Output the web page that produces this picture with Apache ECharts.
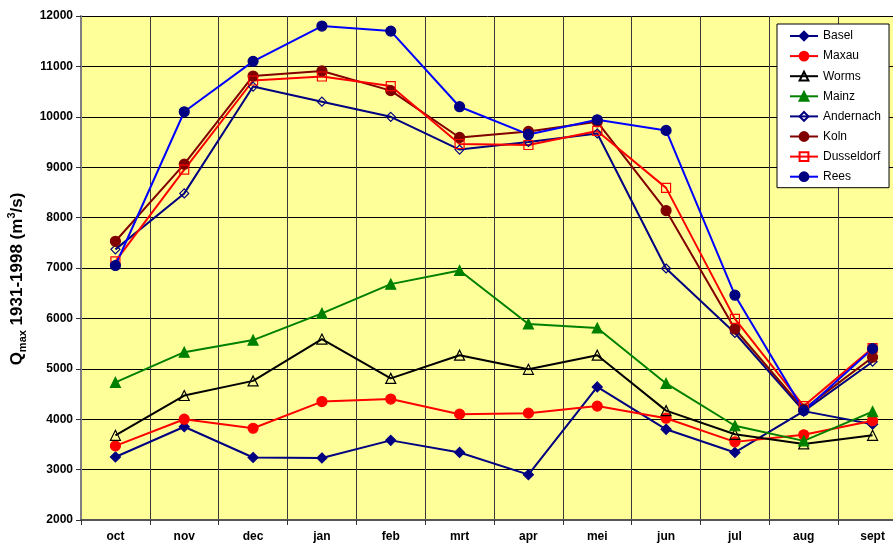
<!DOCTYPE html>
<html>
<head>
<meta charset="utf-8">
<script src="https://cdn.jsdelivr.net/npm/echarts@6/dist/echarts.min.js"></script>
<style>html,body{margin:0;padding:0;background:#fff;}#c{width:893px;height:546px;}</style>
</head>
<body>
<div id="c"></div>
<script>
var months = ['oct','nov','dec','jan','feb','mrt','apr','mei','jun','jul','aug','sept'];
var yTicks = [2000,3000,4000,5000,6000,7000,8000,9000,10000,11000,12000];

var basel      = [3250,3850,3240,3230,3580,3340,2900,4640,3800,3340,4160,3900];
var maxau      = [3470,4000,3820,4350,4400,4100,4120,4260,4020,3550,3690,3970];
var worms      = [3680,4470,4760,5590,4810,5270,4990,5270,4170,3700,3510,3680];
var mainz      = [4730,5330,5570,6100,6680,6950,5890,5810,4710,3870,3570,4150];
var andernach  = [7370,8480,10600,10300,10000,9350,9500,9670,6990,5710,4160,5140];
var koln       = [7530,9060,10810,10910,10520,9590,9710,9900,8140,5790,4200,5230];
var dusseldorf = [7130,8950,10720,10800,10610,9460,9440,9720,8590,5990,4260,5410];
var rees       = [7050,10100,11100,11800,11700,10200,9650,9940,9730,6460,4170,5400];

function mk(name, data, lineColor, symbol, size, fill, border) {
  return {
    name: name, type: 'line', data: data, symbol: symbol, symbolSize: size,
    showAllSymbol: true,
    lineStyle: { color: lineColor, width: 2 },
    itemStyle: { color: fill, borderColor: border, borderWidth: 1.2 },
    emphasis: { disabled: true },
    animation: false
  };
}

var series = [
  mk('Basel', basel, '#000080', 'diamond', 10, '#000080', '#000080'),
  mk('Maxau', maxau, '#FF0000', 'circle', 10, '#FF0000', '#FF0000'),
  mk('Worms', worms, '#000000', 'triangle', 10, 'rgba(0,0,0,0)', '#000000'),
  mk('Mainz', mainz, '#008000', 'triangle', 10, '#008000', '#008000'),
  mk('Andernach', andernach, '#000080', 'diamond', 9, 'rgba(0,0,0,0)', '#000080'),
  mk('Koln', koln, '#800000', 'circle', 10, '#800000', '#800000'),
  mk('Dusseldorf', dusseldorf, '#FF0000', 'rect', 9, 'rgba(0,0,0,0)', '#FF0000'),
  mk('Rees', rees, '#0000FF', 'circle', 10, '#000080', '#000080')
];

var chart = echarts.init(document.getElementById('c'));
chart.setOption({
  animation: false,
  backgroundColor: '#ffffff',
  textStyle: { fontFamily: 'Liberation Sans, Arial, sans-serif' },
  grid: { left: 81, top: 16, right: -14, bottom: 26, show: true, backgroundColor: '#FFFF99', borderWidth: 0,
          containLabel: false, outerBoundsMode: 'none' },
  legend: {
    orient: 'vertical', left: 777, top: 24,
    data: ['Basel','Maxau','Worms','Mainz','Andernach','Koln','Dusseldorf','Rees'],
    backgroundColor: '#ffffff', borderColor: '#000000', borderWidth: 1,
    padding: [6, 8, 5, 12], itemGap: 8.1, itemWidth: 28, itemHeight: 11,
    textStyle: { fontSize: 12, color: '#000', fontFamily: 'Liberation Sans, Arial, sans-serif' }
  },
  xAxis: {
    type: 'category', data: months, boundaryGap: true,
    axisLine: { show: true, lineStyle: { color: '#555555', width: 2 } },
    axisTick: { show: true, interval: 0, inside: false, length: 5, lineStyle: { color: '#333' } },
    splitLine: { show: true, interval: 0, lineStyle: { color: '#3a3a3a', width: 1 } },
    axisLabel: { interval: 0, color: '#000', fontWeight: 'bold', fontSize: 12, margin: 11 }
  },
  yAxis: {
    type: 'value', min: yTicks[0], max: yTicks[yTicks.length - 1], interval: 1000,
    name: '{a|Q}{sub|max}{a| 1931-1998 (m}{sup|3}{a|/s)}',
    nameLocation: 'middle', nameGap: 51, nameRotate: 90,
    nameTextStyle: {
      padding: [0, 22, 0, 0],
      rich: {
        a: { fontSize: 17, fontWeight: 'bold', color: '#000', lineHeight: 22 },
        sub: { fontSize: 11, fontWeight: 'bold', color: '#000', verticalAlign: 'bottom' },
        sup: { fontSize: 11, fontWeight: 'bold', color: '#000', verticalAlign: 'top' }
      }
    },
    axisLine: { show: true, lineStyle: { color: '#808080', width: 2 } },
    axisTick: { show: true, inside: false, length: 5, lineStyle: { color: '#333' } },
    splitLine: { show: true, lineStyle: { color: '#000', width: 1 } },
    axisLabel: { color: '#000', fontWeight: 'bold', fontSize: 12, margin: 8,
                 formatter: function (v) { return String(v); } }
  },
  series: series
});
</script>
</body>
</html>
